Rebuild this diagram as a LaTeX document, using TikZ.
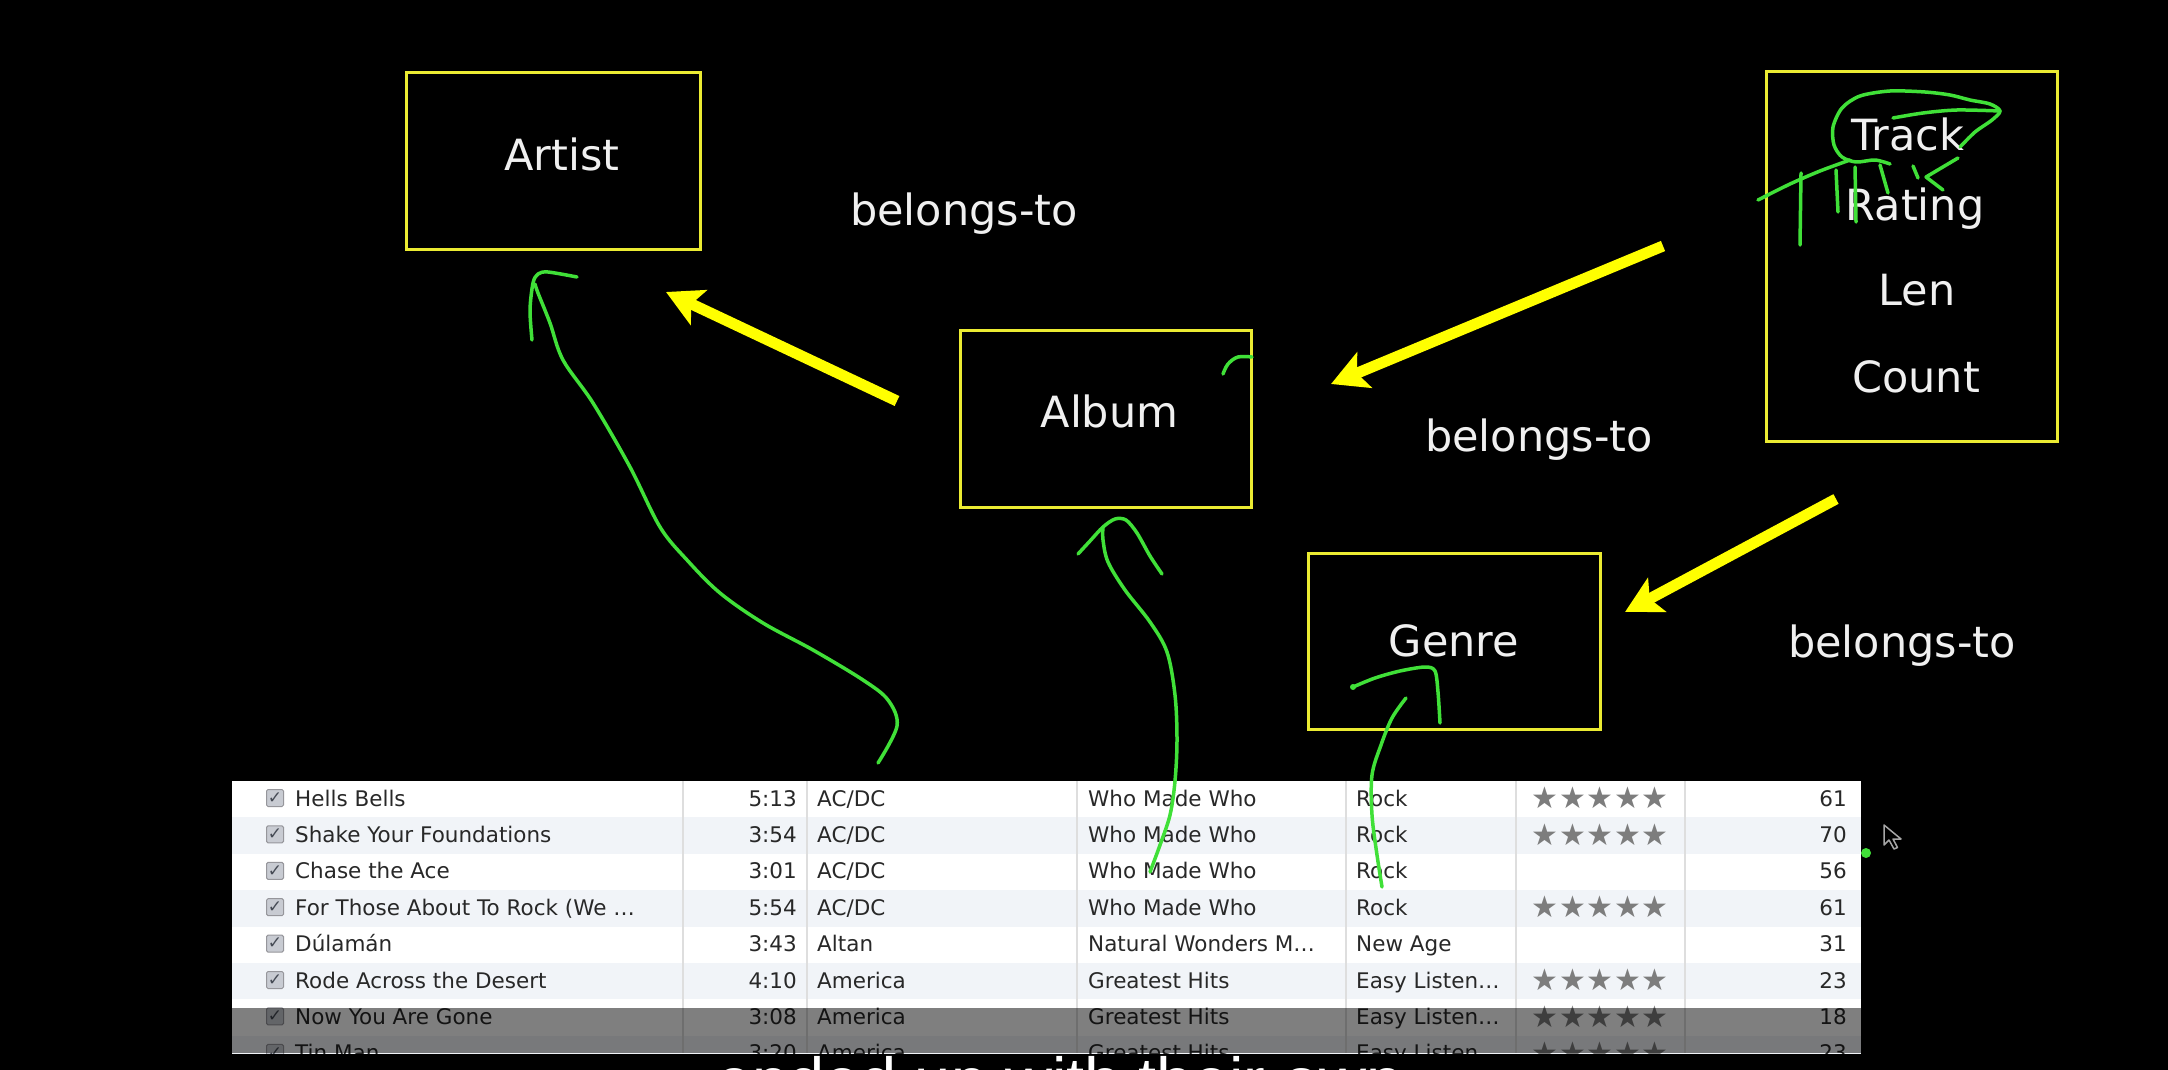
\documentclass[tikz,border=0pt]{standalone}
\usepackage{fontspec}
\setmainfont{DejaVu Sans}
\newfontfamily\subfont{Liberation Sans}
\usetikzlibrary{arrows.meta,calc}
\definecolor{boxyellow}{RGB}{235,235,50}
\definecolor{arrowyellow}{RGB}{255,255,0}
\definecolor{pen}{RGB}{64,224,56}
\definecolor{txt}{RGB}{240,240,240}
\definecolor{cellgray}{RGB}{40,40,40}
\definecolor{stripe}{RGB}{241,244,248}
\definecolor{divider}{RGB}{222,222,222}
\definecolor{stargray}{RGB}{125,125,125}
\definecolor{chkfill}{RGB}{200,203,210}
\definecolor{chkborder}{RGB}{150,150,155}
\definecolor{chkmark}{RGB}{70,75,85}
\newcommand\bigfont{\fontsize{43}{50}\selectfont}
\newcommand\cellfont{\fontsize{21.5}{25}\selectfont}
\newcommand\itrow[8]{%
  \pgfmathsetmacro\ry{798+36.4*(#1-1)}%
  \node[chkbox] (chk#1) at (275,\ry) {✓};
  \node[cell,anchor=base west] (name#1) at (295,\ry+8) {#2};
  \node[cell,anchor=base east] (time#1) at (797,\ry+8) {#3};
  \node[cell,anchor=base west] (artist#1) at (817,\ry+8) {#4};
  \node[cell,anchor=base west] (album#1) at (1088,\ry+8) {#5};
  \node[cell,anchor=base west] (genre#1) at (1356,\ry+8) {#6};
  \ifnum#7=1
    \foreach \k in {0,...,4}{\node[cell,text=stargray,font=\fontsize{30}{32}\selectfont] (star#1-\k) at ({1545+27.5*\k},\ry) {★};}
  \fi
  \node[cell,anchor=base east] (plays#1) at (1847,\ry+8) {#8};
}
\begin{document}
\begin{tikzpicture}[x=1pt,y=-1pt,
  entity/.style={draw=boxyellow,line width=3pt,inner sep=0pt,text=txt,font=\bigfont},
  lbl/.style={text=txt,font=\bigfont,inner sep=0pt},
  relation/.style={draw=arrowyellow,line width=11pt,-{Stealth[length=36pt,width=38pt,inset=8pt]}},
  note/.style={draw=pen,line width=3.5pt,line cap=round,line join=round},
  cell/.style={text=cellgray,font=\cellfont,inner sep=0pt},
  chkbox/.style={fill=chkfill,draw=chkborder,line width=1pt,minimum width=17pt,minimum height=17pt,inner sep=0pt,rounded corners=1.5pt,text=chkmark,font=\fontsize{17}{17}\selectfont\bfseries}]
\useasboundingbox (0,0) rectangle (2168,1070);
\clip (0,0) rectangle (2168,1070);
\fill[black] (0,0) rectangle (2168,1070);

% entity boxes
\node[entity,minimum width=294pt,minimum height=176pt,text depth=14pt] (artist) at (553,161) {\hspace*{18pt}Artist};
\node[entity,minimum width=291pt,minimum height=177pt,text depth=14pt] (album) at (1105.5,418.5) {\hspace*{8pt}Album};
\node[entity,minimum width=292pt,minimum height=176pt] (genre) at (1454,641) {Genre};
\node[entity,minimum width=291pt,minimum height=369pt] (track) at (1911.5,256.5) {};
\node[lbl,anchor=base] (ttrack) at (1908,150) {Track};
\node[lbl,anchor=base] (trating) at (1915,220) {Rating};
\node[lbl,anchor=base] (tlen) at (1917,305) {Len};
\node[lbl,anchor=base] (tcount) at (1916,392) {Count};

% relation labels
\node[lbl,anchor=base west] (bt1) at (850,225) {belongs-to};
\node[lbl,anchor=base west] (bt2) at (1425,451) {belongs-to};
\node[lbl,anchor=base west] (bt3) at (1788,657) {belongs-to};

% relation arrows
\coordinate (a1s) at (897,401); \coordinate (a1e) at (666,292);
\coordinate (a2s) at (1663,246); \coordinate (a2e) at (1331,384);
\coordinate (a3s) at (1836,499); \coordinate (a3e) at (1625,612);
\draw[relation] (a1s) -- (a1e);
\draw[relation] (a2s) -- (a2e);
\draw[relation] (a3s) -- (a3e);

% table
\begin{scope}
\clip (232,781) rectangle (1861,1053);
\fill[white] (232,781) rectangle (1861,1053);
\foreach \r in {2,4,6,8}{\fill[stripe] (232,{781+36.4*(\r-1)}) rectangle (1861,{781+36.4*\r});}
\foreach \dx in {683,807,1077,1346,1516,1685}{\draw[divider,line width=1.2pt] (\dx,781) -- (\dx,1053);}
\itrow{1}{Hells Bells}{5:13}{AC/DC}{Who Made Who}{Rock}{1}{61}
\itrow{2}{Shake Your Foundations}{3:54}{AC/DC}{Who Made Who}{Rock}{1}{70}
\itrow{3}{Chase the Ace}{3:01}{AC/DC}{Who Made Who}{Rock}{0}{56}
\itrow{4}{For Those About To Rock (We …}{5:54}{AC/DC}{Who Made Who}{Rock}{1}{61}
\itrow{5}{Dúlamán}{3:43}{Altan}{Natural Wonders M…}{New Age}{0}{31}
\itrow{6}{Rode Across the Desert}{4:10}{America}{Greatest Hits}{Easy Listen…}{1}{23}
\itrow{7}{Now You Are Gone}{3:08}{America}{Greatest Hits}{Easy Listen…}{1}{18}
\itrow{8}{Tin Man}{3:20}{America}{Greatest Hits}{Easy Listen…}{1}{23}
\fill[black,opacity=0.5] (232,1008) rectangle (1861,1053);
\end{scope}

% hand-drawn green annotations
\draw[note] plot[smooth,tension=0.55] coordinates {(878,763) (897,726) (888,700) (863,680) (813,650) (763,623) (720,593) (687,560) (660,527) (630,467) (593,403) (563,360) (550,323) (538,293) (535,284)};
\draw[note] plot[smooth,tension=0.5] coordinates {(532,340) (530,310) (533,283) (538,274) (548,272) (577,277)};
\draw[note] plot[smooth,tension=0.55] coordinates {(1150,872) (1160,845) (1170,815) (1175,781) (1177,740) (1175,695) (1167,652) (1150,622) (1125,590) (1108,562) (1103,540) (1103,527)};
\draw[note] plot[smooth,tension=0.5] coordinates {(1078,554) (1090,541) (1103,527) (1115,519) (1126,520) (1137,533) (1150,556) (1162,574)};
\draw[note] plot[smooth,tension=0.6] coordinates {(1223,374) (1228,364) (1238,357) (1252,357)};
\draw[note] plot[smooth,tension=0.55] coordinates {(1382,887) (1377,855) (1372,815) (1372,775) (1381,745) (1392,718) (1406,698)};
\draw[note] plot[smooth,tension=0.5] coordinates {(1353,687) (1375,678) (1400,671) (1425,667) (1435,671) (1438,692) (1440,723)};
\fill[pen] (1353,687) circle (3);
% track annotations
\draw[note] plot[smooth,tension=0.5] coordinates {(1960,147) (1975,132) (1992,120) (2000,111) (1990,104) (1970,100) (1950,95) (1925,92) (1890,91) (1860,96) (1842,108) (1833,127) (1834,145) (1842,157) (1856,162) (1875,160) (1890,164)};
\draw[note] plot[smooth,tension=0.5] coordinates {(1893,118) (1923,113) (1957,110) (2000,111)};
\draw[note] plot[smooth,tension=0.5] coordinates {(1758,200) (1790,184) (1820,171) (1850,160)};
\draw[note] (1801,173) -- (1800,245);
\draw[note] (1836,170) -- (1838,212);
\draw[note] (1855,167) -- (1856,222);
\draw[note] (1880,165) -- (1888,193);
\draw[note] (1958,158) -- (1926,177) -- (1943,190);
\draw[note] (1913,166) -- (1918,178);
% dot and cursor
\fill[pen] (1866,853) circle (5);
\draw[gray!70,line width=1.5pt,fill=black,line join=round] (1884,825) -- ++(0,20) -- ++(5,-5) -- ++(5,9) -- ++(3.5,-1.5) -- ++(-4.5,-8.5) -- ++(8,0) -- cycle;

% subtitle
\node[text=white,font=\subfont\fontsize{65}{70}\selectfont,inner sep=0pt,anchor=base west] (subtitle) at (716,1103) {ended up with their own};
\end{tikzpicture}
\end{document}
